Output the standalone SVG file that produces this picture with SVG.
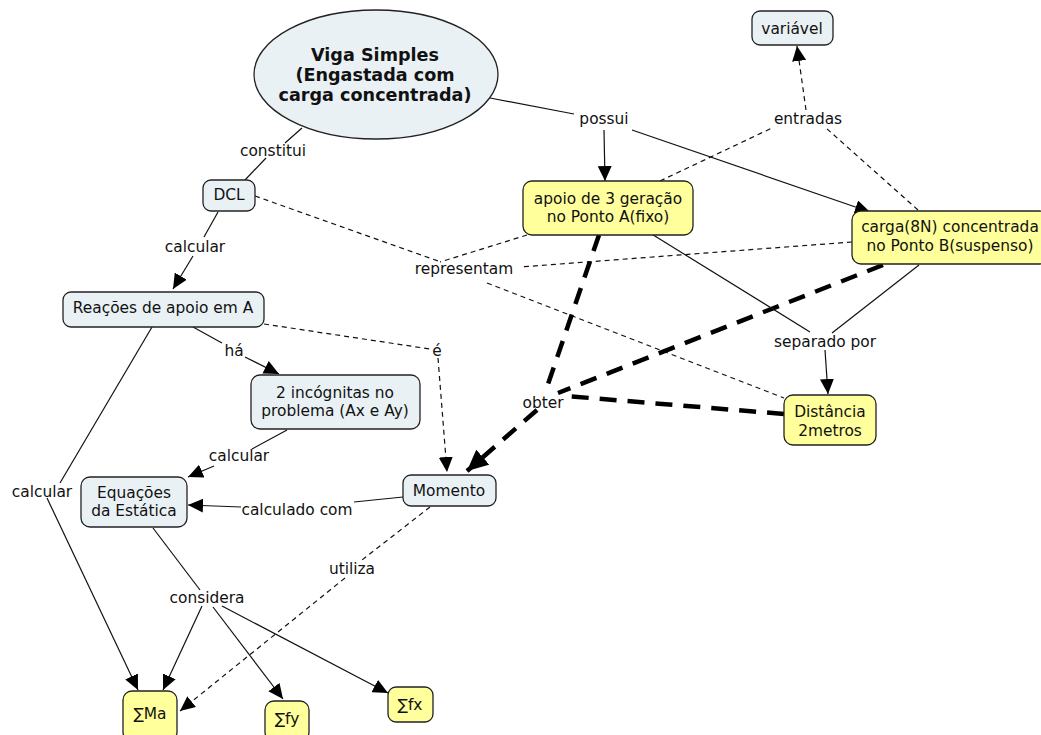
<svg xmlns="http://www.w3.org/2000/svg" width="1041" height="735" viewBox="0 0 1041 735">
<defs>
<style>
.n{fill:#e9f1f5;stroke:#222;stroke-width:1.3}
.y{fill:#ffff9c;stroke:#222;stroke-width:1.3}
text{font-family:"DejaVu Sans","Liberation Sans",sans-serif;font-size:15.4px;fill:#111;text-anchor:middle}
.t{font-weight:bold;font-size:17.6px}
.l{fill:none;stroke:#111;stroke-width:1.2}
.d{fill:none;stroke:#111;stroke-width:1.2;stroke-dasharray:5 4}
.k{fill:none;stroke:#000;stroke-width:4.5;stroke-dasharray:17 11}
</style>
<marker id="a" markerUnits="userSpaceOnUse" markerWidth="16" markerHeight="14" refX="15" refY="7" orient="auto"><path d="M0,0 L15,7 L0,14 z" fill="#000"/></marker>
<marker id="b" markerUnits="userSpaceOnUse" markerWidth="22" markerHeight="20" refX="21" refY="10" orient="auto"><path d="M0,0 L21,10 L0,20 z" fill="#000"/></marker>
</defs>
<rect width="1041" height="735" fill="#fff"/>
<g id="connectors">
<path class="l" d="M302,128 L285,143"/>
<path class="l" d="M266,158 L245,180"/>
<path class="l" d="M218,212 L204,237"/>
<path class="l" d="M193,256 L173,289" marker-end="url(#a)"/>
<path class="l" d="M490,98 L574,114"/>
<path class="l" d="M604,130 L605,181" marker-end="url(#a)"/>
<path class="l" d="M632,130 L870,212" marker-end="url(#a)"/>
<path class="d" d="M660,181 L772,128"/>
<path class="d" d="M918,210 L826,128"/>
<path class="d" d="M806,110 L797,46" marker-end="url(#a)"/>
<path class="d" d="M255,196 L438,261"/>
<path class="d" d="M527,235 L440,262"/>
<path class="d" d="M852,242 L520,267"/>
<path class="d" d="M487,283 L784,398"/>
<path class="l" d="M193,327 L222,343"/>
<path class="l" d="M245,357 L279,374" marker-end="url(#a)"/>
<path class="d" d="M264,324 L430,349"/>
<path class="d" d="M438,358 L447,472" marker-end="url(#a)"/>
<path class="k" d="M599,235 L546,390"/>
<path class="k" d="M883,265 L558,393"/>
<path class="k" d="M784,414 L566,396"/>
<path class="k" d="M537,410 L467,471" marker-end="url(#b)"/>
<path class="l" d="M650,233 L810,332"/>
<path class="l" d="M919,265 L832,333"/>
<path class="l" d="M825,350 L828,394" marker-end="url(#a)"/>
<path class="l" d="M287,430 L252,449"/>
<path class="l" d="M214,466 L188,477" marker-end="url(#a)"/>
<path class="l" d="M152,327 L60,483"/>
<path class="l" d="M47,498 L138,690" marker-end="url(#a)"/>
<path class="l" d="M403,497 L354,502"/>
<path class="l" d="M241,507 L188,505" marker-end="url(#a)"/>
<path class="d" d="M430,507 L362,560"/>
<path class="d" d="M345,578 L180,711" marker-end="url(#a)"/>
<path class="l" d="M153,528 L200,590"/>
<path class="l" d="M202,606 L163,690" marker-end="url(#a)"/>
<path class="l" d="M213,607 L283,699" marker-end="url(#a)"/>
<path class="l" d="M222,606 L388,693" marker-end="url(#a)"/>
</g>
<g id="labels">
<text x="273" y="156">constitui</text>
<text x="195" y="252">calcular</text>
<text x="604" y="124">possui</text>
<text x="808" y="124">entradas</text>
<text x="464" y="274">representam</text>
<text x="234" y="356">há</text>
<text x="437" y="356">é</text>
<text x="825" y="347">separado por</text>
<text x="543" y="408">obter</text>
<text x="239" y="461">calcular</text>
<text x="42" y="497">calcular</text>
<text x="297" y="515">calculado com</text>
<text x="352" y="574">utiliza</text>
<text x="207" y="603">considera</text>
</g>
<g id="viga"><ellipse class="n" cx="376" cy="74.5" rx="122" ry="64.5"/><text class="t" x="375" y="61">Viga Simples</text><text class="t" x="375" y="81">(Engastada com</text><text class="t" x="375" y="101">carga concentrada)</text></g>
<g id="variavel"><rect class="n" x="752" y="11" width="81" height="34" rx="8"/><text x="792" y="34">variável</text></g>
<g id="dcl"><rect class="n" x="203" y="180" width="52" height="31" rx="8"/><text x="229" y="200">DCL</text></g>
<g id="reacoes"><rect class="n" x="63" y="292" width="201" height="35" rx="8"/><text x="163" y="313">Reações de apoio em A</text></g>
<g id="incognitas"><rect class="n" x="251" y="375" width="169" height="54" rx="9"/><text x="335" y="398">2 incógnitas no</text><text x="335" y="416">problema (Ax e Ay)</text></g>
<g id="apoio"><rect class="y" x="523" y="181" width="170" height="54" rx="9"/><text x="608" y="204">apoio de 3 geração</text><text x="608" y="222">no Ponto A(fixo)</text></g>
<g id="carga"><rect class="y" x="852" y="211" width="196" height="53" rx="9"/><text x="950" y="232">carga(8N) concentrada</text><text x="950" y="251">no Ponto B(suspenso)</text></g>
<g id="distancia"><rect class="y" x="784" y="395" width="92" height="50" rx="9"/><text x="830" y="417">Distância</text><text x="830" y="436">2metros</text></g>
<g id="momento"><rect class="n" x="403" y="475" width="93" height="31" rx="8"/><text x="449" y="496">Momento</text></g>
<g id="equacoes"><rect class="n" x="81" y="477" width="106" height="50" rx="9"/><text x="134" y="498">Equações</text><text x="134" y="516">da Estática</text></g>
<g id="sma"><rect class="y" x="123" y="691" width="54" height="50" rx="9"/><text x="150" y="719">∑Ma</text></g>
<g id="sfy"><rect class="y" x="265" y="701" width="44" height="40" rx="9"/><text x="287" y="724">∑fy</text></g>
<g id="sfx"><rect class="y" x="388" y="687" width="45" height="35" rx="8"/><text x="410" y="710">∑fx</text></g>
</svg>
